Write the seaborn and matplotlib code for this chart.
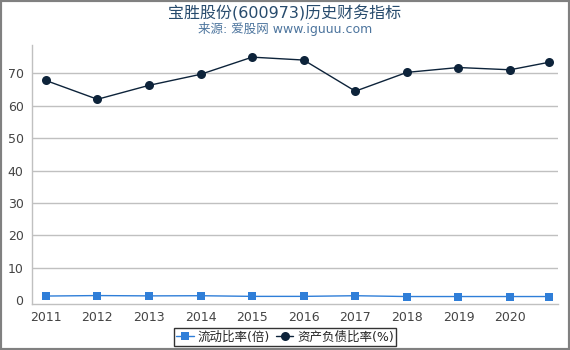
import matplotlib
matplotlib.use("Agg")
import matplotlib.pyplot as plt
import seaborn as sns
import pandas as pd
from matplotlib.patches import Rectangle

sns.set_style("white")
plt.rcParams['font.family'] = ['DejaVu Sans', 'Noto Sans CJK SC']

periods = [2011, 2012, 2013, 2014, 2015, 2016, 2017, 2018, 2019, 2020, 2020.75]
current_ratio = [1.3, 1.45, 1.35, 1.4, 1.2, 1.2, 1.4, 1.15, 1.15, 1.15, 1.15]
debt_ratio = [67.8, 62.0, 66.3, 69.7, 75.0, 74.1, 64.5, 70.3, 71.8, 71.1, 73.4]
tick_years = [2011, 2012, 2013, 2014, 2015, 2016, 2017, 2018, 2019, 2020]
series_names = ["流动比率(倍)", "资产负债比率(%)"]

df1 = pd.DataFrame({"x": periods, "y": current_ratio})
df2 = pd.DataFrame({"x": periods, "y": debt_ratio})

fig = plt.figure(figsize=(5.7, 3.5), dpi=100)
ax = fig.add_axes([0.056, 0.131, 0.923, 0.74])

sns.lineplot(data=df1, x="x", y="y", ax=ax, color="#2f7ed8", marker="s",
             markersize=6, markeredgewidth=0, linewidth=1, label=series_names[0])
sns.lineplot(data=df2, x="x", y="y", ax=ax, color="#0d233a", marker="o",
             markersize=6.5, markeredgewidth=0, linewidth=1, label=series_names[1])

ax.set_xlim(2010.73, 2020.93)
ax.set_ylim(-1.2, 78.7)
ax.set_xticks(tick_years)
ax.set_xticklabels([str(y) for y in tick_years])
ax.set_yticks([0, 10, 20, 30, 40, 50, 60, 70])
ax.set_xlabel("")
ax.set_ylabel("")
for yv in [10, 20, 30, 40, 50, 60, 70]:
    ax.axhline(yv, color="#c0c0c0", linewidth=1, zorder=0)
ax.tick_params(axis="both", labelsize=9, colors="#444444", length=4, width=1)
ax.tick_params(axis="x", color="#c0c0c0", pad=1)
ax.tick_params(axis="y", color="#c0c0c0", length=0, pad=6)
for s in ["top", "right"]:
    ax.spines[s].set_visible(False)
for s in ["left", "bottom"]:
    ax.spines[s].set_color("#c0c0c0")
    ax.spines[s].set_linewidth(1)

ax.get_legend().remove()
handles, labels = ax.get_legend_handles_labels()
leg = fig.legend(handles, labels, loc="center", bbox_to_anchor=(0.5, 0.037),
                 ncol=2, frameon=True, fontsize=9, handlelength=1.4,
                 handletextpad=0.3, columnspacing=0.5, borderpad=0.2,
                 fancybox=False, edgecolor="black")
leg.get_frame().set_linewidth(1)

fig.text(0.5, 0.963, "宝胜股份(600973)历史财务指标", ha="center", va="center",
         fontsize=11.5, color="#274b6d")
fig.text(0.5, 0.918, "来源: 爱股网 www.iguuu.com", ha="center", va="center",
         fontsize=9, color="#4d759e")

fig.patches.append(Rectangle((0, 0), 1, 1, transform=fig.transFigure, fill=False,
                             edgecolor="#808080", linewidth=3))

fig.savefig("out.png", dpi=100)
